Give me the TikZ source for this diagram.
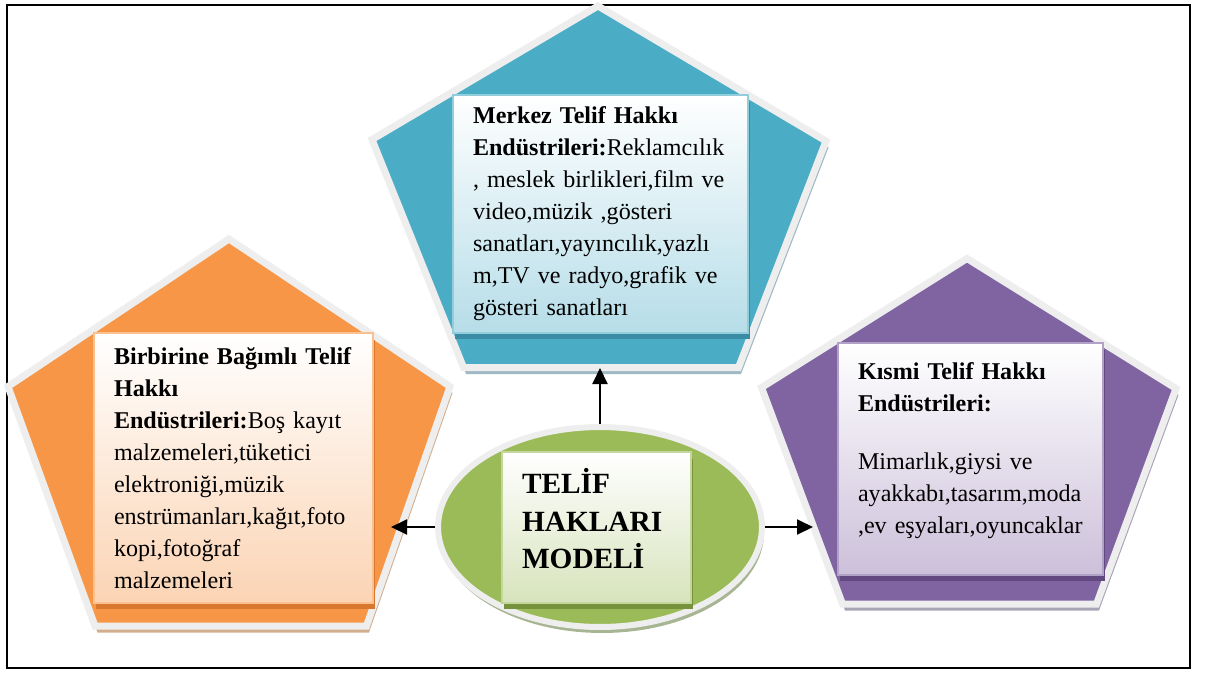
\documentclass[tikz,border=0pt]{standalone}
\usepackage{fontspec}
\setmainfont{Liberation Serif}
\usepackage{xcolor}
\usetikzlibrary{shapes,calc,shadows,arrows.meta}

\definecolor{merkezmavi}{HTML}{4BACC6}
\definecolor{merkezacik}{HTML}{B6DDE8}
\definecolor{merkezsinir}{HTML}{92CDDC}
\definecolor{merkezkoyu}{HTML}{3A8CA5}
\definecolor{merkezgolge}{HTML}{9FB8C3}
\definecolor{bagimliturun}{HTML}{F79646}
\definecolor{bagimliacik}{HTML}{FBD4B4}
\definecolor{bagimlisinir}{HTML}{FAC090}
\definecolor{bagimlikoyu}{HTML}{D9772F}
\definecolor{bagimligolge}{HTML}{D2AE8E}
\definecolor{kismimor}{HTML}{8064A2}
\definecolor{kismiacik}{HTML}{CCC0DA}
\definecolor{kismisinir}{HTML}{B2A1C7}
\definecolor{kismikoyu}{HTML}{62497F}
\definecolor{kismigolge}{HTML}{A9A3B6}
\definecolor{modelyesil}{HTML}{9BBB59}
\definecolor{modelacik}{HTML}{D7E3BC}
\definecolor{modelsinir}{HTML}{C3D69B}
\definecolor{modelkoyu}{HTML}{76923C}
\definecolor{modelgolge}{HTML}{A8B593}
\definecolor{kenar}{HTML}{EEEEEE}

\begin{document}
\begin{tikzpicture}[x=0.02cm, y=-0.02cm,
      pentagon/.style 2 args={draw=kenar, line width=0.14cm, line join=miter, fill=#1,
        drop shadow={shadow xshift=0.05cm, shadow yshift=-0.13cm, fill=#2, opacity=1}},
      box/.style n args={3}{rectangle, draw=#2, line width=0.7pt, top color=white, bottom color=#1,
        drop shadow={shadow xshift=0.04cm, shadow yshift=-0.13cm, fill=#3, opacity=1},
        align=left, inner xsep=0.4cm, inner ysep=0pt, font=\fontsize{13.7}{18.2}\selectfont},
      ok/.style={line width=0.04cm, -{Triangle[length=0.32cm, width=0.3cm]}}]
      \useasboundingbox (0,0) rectangle (1210,673);
      \draw[line width=0.05cm] (7,5) rectangle (1190,668);
      % pentagons
      \draw[pentagon={merkezmavi}{merkezgolge}] (598,6) -- (826,141) -- (738.5,367.5) -- (463.5,367.5) -- (372,139.5) -- cycle;
      \draw[pentagon={bagimliturun}{bagimligolge}] (229,239) -- (450,386.5) -- (366.5,626) -- (95,626) -- (8,386.5) -- cycle;
      \draw[pentagon={kismimor}{kismigolge}] (967,258.5) -- (1176,388.5) -- (1096.5,604) -- (842.5,604) -- (761.5,387.5) -- cycle;
      \coordinate (merkezuc) at (600,368);
      \coordinate (bagimliuc) at (391,527);
      \coordinate (kismiuc) at (813,527);
      % text boxes
      \node[box={merkezacik}{merkezsinir}{merkezkoyu}, minimum width=5.9cm, minimum height=4.76cm, text width=5.1cm] (merkez) at (600.5,214)
        {\textbf{Merkez Telif Hakkı}\\
         \textbf{Endüstrileri:}Reklamcılık\\
         , meslek birlikleri,film ve\\
         video,müzik ,gösteri\\
         sanatları,yayıncılık,yazlı\\
         m,TV ve radyo,grafik ve\\
         gösteri sanatları};
      \node[box={bagimliacik}{bagimlisinir}{bagimlikoyu}, minimum width=5.58cm, minimum height=5.4cm, text width=4.78cm] (bagimli) at (233.5,468)
        {\textbf{Birbirine Bağımlı Telif}\\
         \textbf{Hakkı}\\
         \textbf{Endüstrileri:}Boş kayıt\\
         malzemeleri,tüketici\\
         elektroniği,müzik\\
         enstrümanları,kağıt,foto\\
         kopi,fotoğraf\\
         malzemeleri};
      \node[box={kismiacik}{kismisinir}{kismikoyu}, minimum width=5.3cm, minimum height=4.64cm, text width=4.5cm] (kismi) at (970.5,459)
        {\textbf{Kısmi Telif Hakkı}\\
         \textbf{Endüstrileri:}\\[14.7pt]
         Mimarlık,giysi ve\\
         ayakkabı,tasarım,moda\\
         ,ev eşyaları,oyuncaklar\\[-5.7pt]\mbox{}};
      % center
      \node[ellipse, draw=kenar, line width=0.12cm, fill=modelyesil, minimum width=6.48cm, minimum height=4cm, inner sep=0pt,
        drop shadow={shadow xshift=0.04cm, shadow yshift=-0.12cm, fill=modelgolge, opacity=1}] (model) at (600,527) {};
      \node[box={modelacik}{modelsinir}{modelkoyu}, minimum width=3.78cm, minimum height=3.02cm, text width=2.98cm,
        font=\fontsize{16.7}{21.3}\selectfont\bfseries] (baslik) at (596.5,527.5)
        {TELİF\\ HAKLARI\\ MODELİ\\[-11pt]\mbox{}};
      \draw[ok] (model.north) -- (merkezuc);
      \draw[ok] (model.west) -- (bagimliuc);
      \draw[ok] (model.east) -- (kismiuc);
    \end{tikzpicture}
\end{document}
